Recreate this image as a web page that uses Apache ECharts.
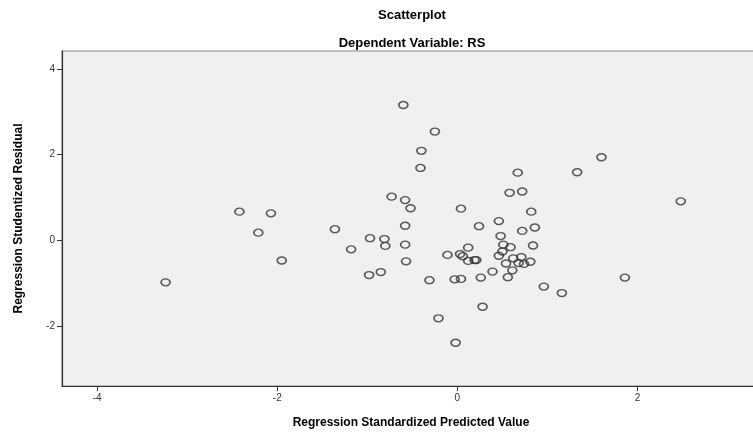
<!DOCTYPE html>
<html>
<head>
<meta charset="utf-8">
<script src="https://cdn.jsdelivr.net/npm/echarts@6/dist/echarts.min.js"></script>
<style>
  html, body { margin: 0; padding: 0; background: #fff; overflow: hidden; }
  /* a little wider than the window: the plot runs off the right edge */
  #main { width: 760px; height: 434px; }
</style>
</head>
<body>
<div id="main"></div>
<script>
// predicted (x) and studentized residual (y)
var predicted = [
    -3.24, -2.42, -2.07, -2.21, -1.95, -1.36, -1.18, -0.97, -0.98, -0.85,
    -0.81, -0.80, -0.73, -0.58, -0.52, -0.58, -0.58, -0.57, -0.60, -0.25,
    -0.40, -0.41, -0.31, -0.21, -0.02, 0.04, -0.11, -0.03, 0.04, 0.03,
    0.06, 0.12, 0.12, 0.19, 0.21, 0.24, 0.26, 0.28, 0.39, 0.46,
    0.48, 0.46, 0.50, 0.51, 0.54, 0.56, 0.59, 0.61, 0.62, 0.58,
    0.67, 0.72, 0.72, 0.71, 0.68, 0.74, 0.81, 0.82, 0.84, 0.86,
    0.96, 1.16, 1.33, 1.60, 1.86, 2.48
];
var residual = [
    -0.98, 0.67, 0.63, 0.18, -0.47, 0.26, -0.21, 0.05, -0.81, -0.74,
    0.03, -0.13, 1.02, 0.94, 0.75, 0.34, -0.10, -0.49, 3.16, 2.54,
    2.09, 1.69, -0.93, -1.82, -2.39, 0.74, -0.34, -0.91, -0.90, -0.32,
    -0.37, -0.17, -0.48, -0.46, -0.46, 0.33, -0.87, -1.55, -0.73, 0.45,
    0.10, -0.36, -0.26, -0.10, -0.54, -0.86, -0.16, -0.70, -0.42, 1.11,
    1.58, 1.14, 0.22, -0.39, -0.53, -0.55, -0.50, 0.67, -0.12, 0.30,
    -1.08, -1.23, 1.59, 1.94, -0.87, 0.91
];
var xTicks = [-4, -2, 0, 2];
var yTicks = [-2, 0, 2, 4];

var points = [];
for (var i = 0; i < predicted.length; i++) {
    points.push([predicted[i], residual[i]]);
}

var myChart = echarts.init(document.getElementById('main'));
myChart.setOption({
    animation: false,
    title: [
        {
            text: 'Scatterplot',
            left: 407, top: 4, textAlign: 'center',
            textStyle: { fontFamily: 'Liberation Sans', fontSize: 13, fontWeight: 'bold', color: '#000' }
        },
        {
            text: 'Dependent Variable: RS',
            left: 407, top: 32, textAlign: 'center',
            textStyle: { fontFamily: 'Liberation Sans', fontSize: 13, fontWeight: 'bold', color: '#000' }
        }
    ],
    grid: {
        left: 62, top: 51, right: 0, bottom: 46,
        show: true,
        backgroundColor: '#f0f0f0',
        borderColor: '#888',
        borderWidth: 1.2
    },
    xAxis: {
        type: 'value',
        min: -4.39, max: 3.36,
        name: 'Regression Standardized Predicted Value',
        nameLocation: 'middle',
        nameGap: 31,
        nameTextStyle: { fontFamily: 'Liberation Sans', fontSize: 12, fontWeight: 'bold', color: '#000' },
        axisLine: { onZero: false, lineStyle: { color: '#333', width: 1.2 } },
        axisTick: { show: true, length: 5, customValues: xTicks, lineStyle: { color: '#333' } },
        axisLabel: { customValues: xTicks, margin: 7, fontFamily: 'Liberation Sans', fontSize: 10, color: '#333' },
        splitLine: { show: false }
    },
    yAxis: {
        type: 'value',
        min: -3.40, max: 4.42,
        name: 'Regression Studentized Residual',
        nameLocation: 'middle',
        nameGap: 37,
        nameTextStyle: { fontFamily: 'Liberation Sans', fontSize: 12, fontWeight: 'bold', color: '#000' },
        axisLine: { show: true, onZero: false, lineStyle: { color: '#333', width: 1.2 } },
        axisTick: { show: true, length: 5, customValues: yTicks, lineStyle: { color: '#333' } },
        axisLabel: { customValues: yTicks, margin: 7, fontFamily: 'Liberation Sans', fontSize: 10, color: '#333' },
        splitLine: { show: false }
    },
    series: [{
        type: 'scatter',
        data: points,
        symbol: 'circle',
        symbolSize: [9, 7],
        itemStyle: {
            color: 'rgba(0,0,0,0)',
            borderColor: '#333',
            borderWidth: 1.5
        }
    }]
});
</script>
</body>
</html>
